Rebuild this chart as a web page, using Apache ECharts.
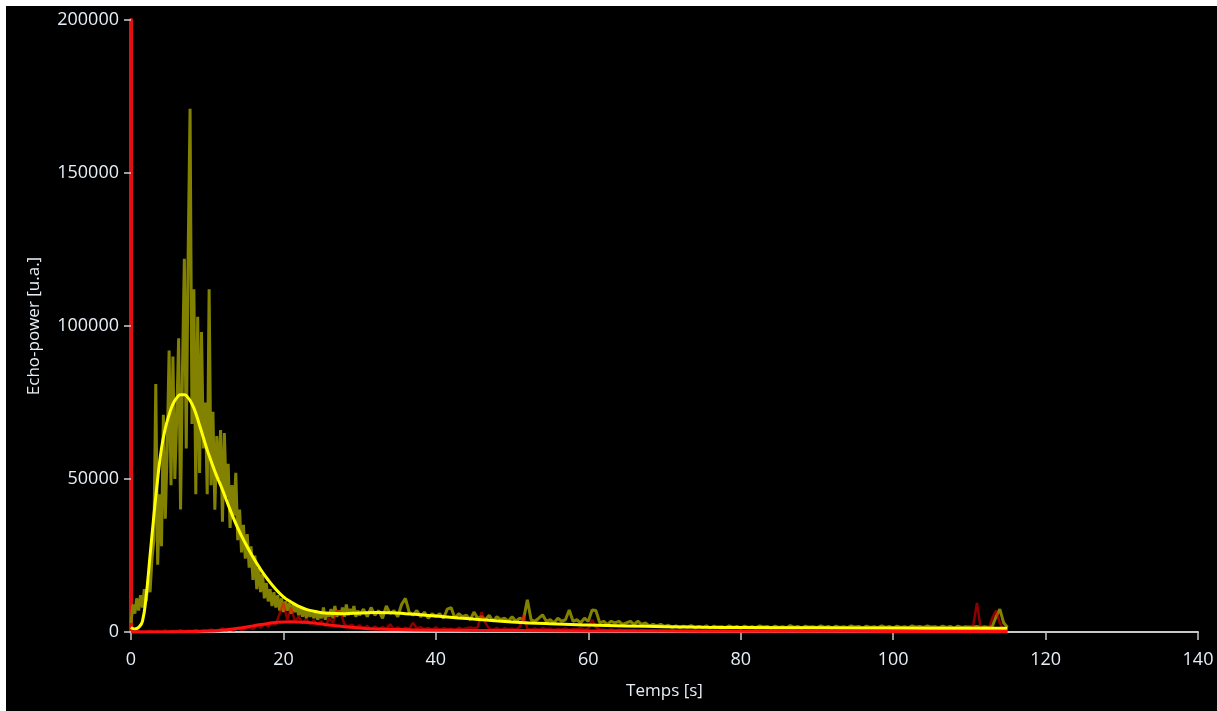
<!DOCTYPE html>
<html>
<head>
<meta charset="utf-8">
<script src="https://cdn.jsdelivr.net/npm/echarts@6/dist/echarts.min.js"></script>
<style>
html,body{margin:0;padding:0;background:#ffffff;width:1217px;height:711px;overflow:hidden;}
#c{position:absolute;left:6px;top:6px;width:1211px;height:705px;background:#000000;}
</style>
</head>
<body>
<div id="c"></div>
<script>
// ---- data ----
const xTicks = [0, 20, 40, 60, 80, 100, 120, 140];
const yTicks = [0, 50000, 100000, 150000, 200000];

// raw yellow (olive) echo, part A: t = 0 .. 30 every 0.25 s
const rawYellowA_start = 0, rawYellowA_step = 0.25;
const rawYellowA = [
 3000, 9000, 6000, 11000, 7000, 12000, 8000, 14000, 10000, 17000, 13000, 24000,
 30000, 81000, 22000, 45000, 28000, 71000, 37000, 60000, 92000, 48000, 90000, 50000,
 70000, 96000, 40000, 85000, 122000, 60000, 124000, 171000, 68000, 112000, 45000, 103000,
 52000, 98000, 60000, 75000, 45000, 112000, 48000, 72000, 40000, 64000, 50000, 66000,
 36000, 65000, 44000, 55000, 34000, 48000, 38000, 52000, 30000, 40000, 26000, 35000,
 24000, 32000, 21000, 28000, 17000, 25000, 14000, 21000, 13000, 19000, 11000, 16000,
 10000, 14000, 8500, 13000, 8000, 12000, 7000, 11000, 6500, 10000, 7000, 9500,
 6000, 9000, 6500, 8500, 5500, 8000, 5000, 7500, 4500, 7000, 5000, 6500,
 4500, 7000, 4000, 6000, 4500, 8000, 4000, 6500, 5000, 7500, 4500, 8500,
 5000, 7000, 5500, 8000, 5000, 9000, 5500, 7500, 6000, 8500, 5000, 7000, 5500
];
// raw yellow part B: t = 30.5 .. 115 every 0.5 s
const rawYellowB_start = 30.5, rawYellowB_step = 0.5;
const rawYellowB = [
 7500, 5000, 8000, 5500, 7000, 4500, 8500, 6000, 7000, 5000,
 9000, 11000, 6500, 5500, 7000, 5000, 6500, 4500, 6000, 5000,
 6000, 4500, 7500, 8000, 4500, 6000, 5000, 5500, 4000, 6500,
 4500, 5000, 4000, 5500, 3500, 5000, 4000, 4500, 3500, 5000,
 3500, 4500, 4000, 10500, 4000, 3500, 4500, 5600, 3500, 4000,
 3000, 4500, 3500, 4000, 7200, 3500, 4000, 3000, 4500, 3500,
 7200, 7000, 3000, 3500, 2500, 3500, 3000, 3500, 2500, 3000,
 3500, 2500, 3500, 2500, 3000, 2000, 2500, 2000, 2500, 1800,
 2200, 1500, 2000, 1400, 1900, 1600, 2100, 1400, 1800, 1500,
 2000, 1300, 1900, 1600, 1700, 1400, 2000, 1500, 1800, 1300,
 1900, 1500, 1700, 1400, 2000, 1600, 1800, 1300, 1900, 1500,
 1700, 1400, 2100, 1500, 1800, 1300, 1900, 1600, 1700, 1400,
 2000, 1500, 1800, 1300, 1900, 1500, 1700, 1400, 2000, 1600,
 1800, 1300, 1900, 1500, 1700, 1400, 2000, 1500, 1800, 1300,
 1900, 1500, 1700, 1400, 2000, 1600, 1800, 1500, 2000, 1600,
 1700, 1400, 1900, 1500, 1800, 1300, 1900, 1500, 1700, 1600,
 1600, 1800, 1500, 1700, 1500, 1800, 5000, 7500, 3000, 1500
];

// raw red echo: t = 0 .. 115 every 0.5 s
const rawRed_start = 0, rawRed_step = 0.5;
const rawRed = [
 200, 100, 300, 100, 200, 400, 100, 300, 200, 500, 100, 300, 200, 600, 200, 400, 300, 700, 200, 500,
 300, 800, 400, 600, 1200, 500, 900, 400, 1300, 700, 1000, 1600, 900, 2200, 1400, 2600, 1800, 3000, 2400, 6000,
 9500, 4000, 8000, 3500, 5000, 3000, 4200, 2600, 3800, 2500, 3500, 2000, 4500, 3000, 7000, 6500, 2500, 1800, 2400, 1500,
 2200, 1200, 2000, 1000, 1800, 900, 1600, 1100, 2500, 900, 1500, 800, 1400, 1000, 3000, 1200, 1600, 900, 1300, 800,
 1500, 700, 1200, 900, 1100, 600, 1400, 900, 1200, 1500, 1200, 1500, 6500, 3000, 1000, 800, 1300, 700, 1200, 900,
 1100, 700, 1600, 5600, 1000, 800, 1200, 700, 1300, 900, 1100, 600, 1000, 800, 1200, 700, 1000, 900, 1300, 700,
 1100, 4000, 1500, 800, 700, 500, 800, 400, 700, 500, 600, 400, 700, 300, 600, 500, 400, 600, 300, 500,
 400, 300, 600, 400, 300, 500, 400, 300, 500, 300, 400, 500, 300, 400, 300, 500, 400, 300, 400, 300,
 500, 300, 400, 300, 500, 400, 300, 400, 300, 500, 300, 400, 300, 400, 500, 300, 400, 300, 400, 300,
 500, 300, 400, 300, 400, 300, 500, 400, 300, 400, 300, 400, 300, 500, 300, 400, 300, 400, 300, 400,
 300, 500, 300, 400, 300, 400, 300, 500, 400, 300, 400, 300, 500, 300, 400, 300, 400, 300, 500, 300,
 400, 2000, 9500, 1000, 400, 600, 4500, 7000, 3000, 500, 200
];

// fitted curves [t, value]
const fitYellowT = [0,0.5,1,1.5,2,2.5,3,3.5,4,4.5,5,5.5,6,6.5,7,7.5,8,8.5,9,9.5,10,11,12,13,14,15,16,17,18,19,20,21,22,23,24,25,26,28,30,32,34,36,38,40,43,46,50,55,60,65,70,75,80,90,100,110,115];
const fitYellowV = [1500,1000,1500,3500,12000,25000,38000,50000,60000,66500,71000,74500,76500,77500,77500,76500,74500,71500,67500,63500,59500,52500,46500,40000,34000,29000,24500,20500,17000,14000,11500,9800,8400,7400,6800,6300,6100,6000,6200,6400,6300,6000,5600,5200,4600,4000,3300,2700,2300,2000,1750,1550,1450,1350,1300,1250,1250];

const fitRedT = [0,5,8,10,12,14,16,18,20,21,22,24,26,28,30,32,35,40,45,50,60,70,80,90,100,115];
const fitRedV = [0,50,150,300,600,1200,2000,2800,3300,3350,3250,2900,2300,1750,1300,1000,800,600,500,450,350,300,250,220,200,180];

// ---- build series data ----
function pairs(start, step, vals){ return vals.map((v,i)=>[start + i*step, v]); }
function zipTV(t, v){ return t.map((x,i)=>[x, v[i]]); }
const rawYellowData = pairs(rawYellowA_start, rawYellowA_step, rawYellowA)
  .concat(pairs(rawYellowB_start, rawYellowB_step, rawYellowB));
const rawRedData = pairs(rawRed_start, rawRed_step, rawRed);

const chart = echarts.init(document.getElementById('c'), null, {renderer:'canvas'});
const labelColor = '#e6eef6';
chart.setOption({
  backgroundColor: '#000000',
  animation: false,
  grid: {left:125, top:14, right:19, bottom:79, containLabel:false},
  xAxis: {
    type:'value', min:xTicks[0], max:xTicks[xTicks.length-1], interval:20,
    name:'Temps [s]', nameLocation:'middle', nameGap:51,
    nameTextStyle:{color:labelColor, fontSize:17, fontFamily:'Open Sans'},
    axisLine:{show:true, onZero:false, lineStyle:{color:'#c8c8c8', width:2}},
    axisTick:{show:true, length:8, lineStyle:{color:'#c8c8c8', width:1.5}},
    axisLabel:{color:labelColor, fontSize:18, fontFamily:'Open Sans', margin:19},
    splitLine:{show:false}
  },
  yAxis: {
    type:'value', min:yTicks[0], max:yTicks[yTicks.length-1], interval:50000,
    name:'Echo-power [u.a.]', nameLocation:'middle', nameGap:88, nameRotate:90,
    nameTextStyle:{color:labelColor, fontSize:17, fontFamily:'Open Sans'},
    axisLine:{show:true, lineStyle:{color:'#e01010', width:4}},
    axisTick:{show:true, length:7, inside:false, lineStyle:{color:'#d0d0d0', width:1.5}},
    axisLabel:{color:labelColor, fontSize:18, fontFamily:'Open Sans', margin:12,
               formatter:(v)=>String(v)},
    splitLine:{show:false}
  },
  series: [
    {type:'line', data:rawYellowData, showSymbol:false, symbol:'none',
     lineStyle:{color:'#828200', width:3}, z:2},
    {type:'line', data:rawRedData, showSymbol:false, symbol:'none',
     lineStyle:{color:'rgba(255,0,0,0.55)', width:2.5}, z:3},
    {type:'line', data:zipTV(fitYellowT, fitYellowV), smooth:true, showSymbol:false, symbol:'none',
     lineStyle:{color:'#ffff00', width:3}, z:4},
    {type:'line', data:zipTV(fitRedT, fitRedV), smooth:true, showSymbol:false, symbol:'none',
     lineStyle:{color:'#ff1010', width:3}, z:5}
  ]
});
</script>
</body>
</html>
